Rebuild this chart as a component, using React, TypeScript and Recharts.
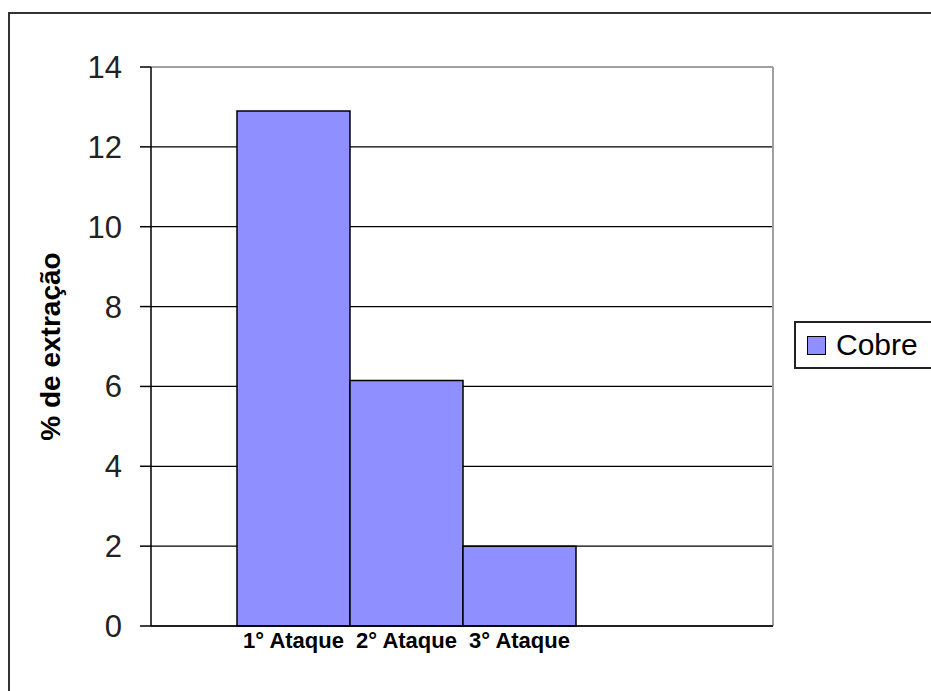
import React from 'react';
import { BarChart, Bar, XAxis, YAxis, CartesianGrid, Legend } from 'recharts';

const categories = ['1° Ataque', '2° Ataque', '3° Ataque'];
const cobre = [12.9, 6.15, 2.0];
const yTicks = [0, 2, 4, 6, 8, 10, 12, 14];

const data = categories.map((name, i) => ({ name, cobre: cobre[i] }));

const FONT = '"Liberation Sans", Arial, sans-serif';
const BAR_FILL = '#8f8fff';

function YLabel(props: any) {
  const vb = props.viewBox || {};
  const cx = vb.x + 50;
  const cy = vb.y + vb.height / 2;
  return (
    <text
      x={cx}
      y={cy}
      transform={`rotate(-90, ${cx}, ${cy})`}
      textAnchor="middle"
      dominantBaseline="central"
      fontFamily={FONT}
      fontWeight="bold"
      fontSize={28}
      fill="#000"
    >
      % de extração
    </text>
  );
}

function LegendBox() {
  return (
    <div
      style={{
        display: 'flex',
        alignItems: 'center',
        border: '2px solid #222',
        height: 48,
        width: 160,
        paddingLeft: 11,
        boxSizing: 'border-box',
        fontFamily: FONT,
        fontSize: 30,
        color: '#000',
        background: '#fff',
      }}
    >
      <span
        style={{
          display: 'inline-block',
          width: 17,
          height: 17,
          background: BAR_FILL,
          border: '1.5px solid #000',
          marginRight: 10,
        }}
      />
      Cobre
    </div>
  );
}

export default function App() {
  return (
    <div style={{ position: 'absolute', left: 0, top: 0, width: 931, height: 691, overflow: 'hidden', background: '#fff' }}>
      <style>{'body{margin:0;overflow:hidden;}'}</style>
      <div
        style={{
          position: 'absolute',
          left: 8,
          top: 12,
          width: 1000,
          height: 1000,
          border: '2px solid #333',
        }}
      />
      <div style={{ position: 'absolute', left: 0, top: 0 }}>
        <BarChart
          width={931}
          height={691}
          data={data}
          margin={{ top: 67, right: 158, bottom: 0, left: 0 }}
          barCategoryGap={0}
          barGap={0}
        >
          <CartesianGrid vertical={false} stroke="#000" strokeWidth={1.2} strokeDasharray="" />
          <CartesianGrid
            stroke="#a0a0a0"
            strokeWidth={2}
            horizontalCoordinatesGenerator={({ offset }: any) => [offset.top]}
            verticalCoordinatesGenerator={({ offset }: any) => [offset.left + offset.width]}
          />
          <XAxis
            dataKey="name"
            height={65}
            padding={{ left: 86, right: 197 }}
            axisLine={{ stroke: '#000', strokeWidth: 1.5 }}
            tickLine={false}
            tickSize={0}
            tickMargin={6}
            interval={0}
            tick={{ fontFamily: FONT, fontWeight: 'bold', fontSize: 22, fill: '#000' }}
          />
          <YAxis
            width={151}
            domain={[0, 14]}
            ticks={yTicks}
            interval={0}
            axisLine={{ stroke: '#000', strokeWidth: 1.5 }}
            tickLine={{ stroke: '#000', strokeWidth: 1.5 }}
            tickSize={11}
            tickMargin={18}
            tick={{ fontFamily: FONT, fontSize: 31, fill: '#222' }}
            label={{ content: (p: any) => <YLabel {...p} /> }}
          />
          <Legend
            layout="horizontal"
            align="center"
            verticalAlign="middle"
            wrapperStyle={{ left: 794, top: 321, right: 'auto', width: 160 }}
            content={() => <LegendBox />}
          />
          <Bar
            dataKey="cobre"
            name="Cobre"
            fill={BAR_FILL}
            stroke="#000"
            strokeWidth={1.5}
            isAnimationActive={false}
          />
        </BarChart>
      </div>
    </div>
  );
}
